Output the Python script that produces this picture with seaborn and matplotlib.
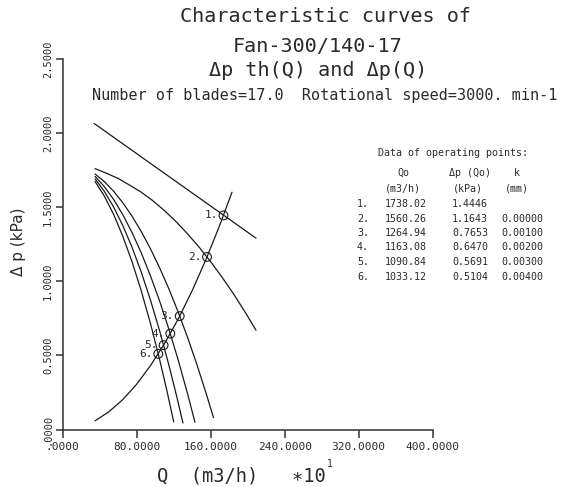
import matplotlib
matplotlib.use("Agg")
import matplotlib.pyplot as plt
import numpy as np
import pandas as pd
import seaborn as sns

sns.set_style("ticks")
plt.rcParams['font.family'] = ['DejaVu Sans Mono', 'DejaVu Sans']

# operating points (Q in m3/h, dp in kPa, k in mm)
op_q = [1738.02, 1560.26, 1264.94, 1163.08, 1090.84, 1033.12]
op_dp = [1.4446, 1.1643, 0.7653, 0.6470, 0.5691, 0.5104]
op_k = ["", "0.00000", "0.00100", "0.00200", "0.00300", "0.00400"]

# curves (Q axis in units of 10 m3/h)
th_q = [34, 121, 209]
th_dp = [2.065, 1.680, 1.291]

k0_q = [35, 47, 60, 72, 85, 97, 110, 122, 135, 147, 160, 172, 185, 197, 209]
k0_dp = [1.760, 1.730, 1.694, 1.650, 1.601, 1.546, 1.477, 1.406, 1.320, 1.234, 1.132, 1.030, 0.912, 0.794, 0.670]

k1_q = [35, 45, 55, 65, 75, 85, 95, 105, 115, 125, 135, 145, 155, 163]
k1_dp = [1.724, 1.673, 1.608, 1.530, 1.439, 1.335, 1.218, 1.088, 0.946, 0.790, 0.621, 0.440, 0.245, 0.080]

k2_q = [35, 45, 55, 65, 75, 85, 95, 105, 115, 125, 135, 143]
k2_dp = [1.708, 1.639, 1.553, 1.449, 1.329, 1.191, 1.035, 0.863, 0.673, 0.466, 0.241, 0.049]

k3_q = [35, 45, 55, 65, 75, 85, 95, 105, 115, 123, 130]
k3_dp = [1.691, 1.607, 1.502, 1.376, 1.229, 1.061, 0.871, 0.661, 0.430, 0.230, 0.044]

k4_q = [35, 45, 55, 65, 75, 85, 95, 105, 113, 120]
k4_dp = [1.673, 1.575, 1.452, 1.304, 1.131, 0.934, 0.713, 0.466, 0.252, 0.051]

sys_q = [35, 50, 65, 80, 95, 110, 125, 140, 155, 170, 183]
sys_dp = [0.059, 0.120, 0.202, 0.306, 0.432, 0.579, 0.747, 0.937, 1.149, 1.382, 1.601]

x_ticks = [0, 80, 160, 240, 320, 400]
x_labels = [".0000", "80.0000", "160.0000", "240.0000", "320.0000", "400.0000"]
y_ticks = [0, 0.5, 1.0, 1.5, 2.0, 2.5]
y_labels = [".0000", "0.5000", "1.0000", "1.5000", "2.0000", "2.5000"]

W, H = 566, 487
fig = plt.figure(figsize=(W / 100, H / 100), dpi=100)
ax = fig.add_axes([62.7 / W, 1 - 429.5 / H, 370 / W, 370.5 / H])

ink = "#1a1a1a"
txt = "#2a2a2a"
curves = [(th_q, th_dp), (k0_q, k0_dp), (k1_q, k1_dp), (k2_q, k2_dp),
          (k3_q, k3_dp), (k4_q, k4_dp), (sys_q, sys_dp)]
for cq, cdp in curves:
    sns.lineplot(x=cq, y=cdp, ax=ax, color=ink, lw=0.9, sort=False, estimator=None)

pts = pd.DataFrame({"Q": np.array(op_q) / 10, "dp": op_dp})
sns.scatterplot(data=pts, x="Q", y="dp", ax=ax, s=40, facecolor="none",
                edgecolor=ink, linewidth=0.8, zorder=5)
for i, row in pts.iterrows():
    ax.annotate(f"{i + 1}.", (row.Q, row.dp), xytext=(-4, 0), textcoords="offset points",
                ha="right", va="center", fontsize=8, color=txt)

# axes
ax.set_xlim(0, 400)
ax.set_ylim(0, 2.5)
sns.despine(ax=ax)
for s in ["left", "bottom"]:
    ax.spines[s].set_color("#333333")
    ax.spines[s].set_linewidth(1.1)
ax.set_xticks(x_ticks)
ax.set_xticklabels(x_labels, fontsize=8, color=txt)
ax.set_yticks(y_ticks)
ax.set_yticklabels(y_labels, fontsize=7.5, color=txt, rotation=90, va="center")
ax.tick_params(axis="x", bottom=True, direction="out", length=5.5, width=1.1, color="#333333", pad=3.5)
ax.tick_params(axis="y", left=True, direction="out", length=5, width=1.1, color="#333333", pad=2)
ax.set_xlabel("")
ax.set_ylabel("")

def ftext(x, y, s, **kw):
    fig.text(x / W, 1 - y / H, s, **kw)

# titles
ftext(325, 16, "Characteristic curves of", fontsize=14.5, ha="center", va="center", color=txt)
ftext(318, 47, "Fan-300/140-17", fontsize=14.5, ha="center", va="center", color=txt)
ftext(318, 70, "Δp th(Q) and Δp(Q)", fontsize=14.5, ha="center", va="center", color=txt)
ftext(325, 95, "Number of blades=17.0  Rotational speed=3000. min-1", fontsize=10.9,
      ha="center", va="center", color=txt)

# axis labels
ftext(18, 242, "Δ p (kPa)", fontsize=11, family="DejaVu Sans", rotation=90,
      ha="center", va="center", color=txt)
ftext(157, 476, "Q  (m3/h)   ∗10", fontsize=13.5, ha="left", va="center", color=txt)
ftext(327, 464, "1", fontsize=7, ha="left", va="center", color=txt)

# table of operating points
tfs = 7.2
ftext(378, 153, "Data of operating points:", fontsize=tfs, ha="left", va="center", color=txt)
ftext(403, 173, "Qo", fontsize=tfs, ha="center", va="center", color=txt)
ftext(470, 173, "Δp (Qo)", fontsize=tfs, ha="center", va="center", color=txt)
ftext(517, 173, "k", fontsize=tfs, ha="center", va="center", color=txt)
ftext(403, 189, "(m3/h)", fontsize=tfs, ha="center", va="center", color=txt)
ftext(468, 189, "(kPa)", fontsize=tfs, ha="center", va="center", color=txt)
ftext(517, 189, "(mm)", fontsize=tfs, ha="center", va="center", color=txt)
for i in range(len(op_q)):
    y = 204 + i * 14.5
    ftext(357, y, f"{i + 1}.", fontsize=tfs, ha="left", va="center", color=txt)
    ftext(385, y, f"{op_q[i]:.2f}", fontsize=tfs, ha="left", va="center", color=txt)
    ftext(488, y, f"{op_dp[i]:.4f}", fontsize=tfs, ha="right", va="center", color=txt)
    ftext(543, y, op_k[i], fontsize=tfs, ha="right", va="center", color=txt)

fig.savefig("out.png", dpi=100)
